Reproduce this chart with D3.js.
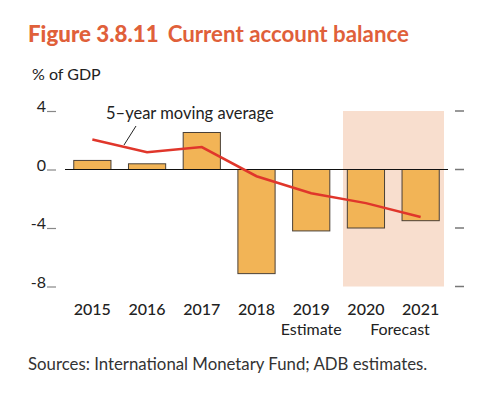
<!DOCTYPE html>
<html>
<head>
<meta charset="utf-8">
<script src="https://cdn.jsdelivr.net/npm/d3@7"></script>
<style>
  body { margin: 0; background: #fff; }
  text { font-family: Lato, "Open Sans", sans-serif; }
</style>
</head>
<body>
<div id="chart"></div>
<script>
'use strict';

// data
let years = ['2015', '2016', '2017', '2018', '2019', '2020', '2021'];
let balance = [0.62, 0.39, 2.53, -7.12, -4.2, -4.0, -3.5];
let moving_avg = [2.05, 1.18, 1.53, -0.46, -1.62, -2.3, -3.25];
let y_ticks = [4, 0, -4, -8];

let width = 490, height = 394;

let svg = d3.select('#chart').append('svg')
    .attr('width', width)
    .attr('height', height);

let x = d3.scaleBand()
    .domain(years)
    .range([65, 448])
    .paddingInner(0.32)
    .paddingOuter(0.16);

let y = d3.scaleLinear()
    .domain([-8, 4])
    .range([286.5, 111]);

// title
let title = svg.append('text')
    .attr('x', 28)
    .attr('y', 42)
    .attr('fill', '#e0603a')
    .style('font-size', '22.3px');
title.append('tspan').attr('font-weight', 900).text('Figure 3.8.11');
title.append('tspan').attr('dx', 9).attr('font-weight', 700).text('Current account balance');

svg.append('text')
    .attr('x', 32)
    .attr('y', 80)
    .style('font-size', '16px')
    .attr('fill', '#222')
    .text('% of GDP');

// forecast shading
svg.append('rect')
    .attr('x', 343)
    .attr('width', 444 - 343)
    .attr('y', y(4))
    .attr('height', y(-8) - y(4))
    .attr('fill', '#f8dece');

// left axis: labels with short gray tick mark
let left = svg.append('g');
left.selectAll('text').data(y_ticks).enter().append('text')
    .attr('x', 46)
    .attr('y', function(d) { return y(d) + 1; })
    .attr('text-anchor', 'end')
    .style('font-size', '16px')
    .attr('fill', '#222')
    .text(function(d) { return d; });
left.selectAll('line').data(y_ticks).enter().append('line')
    .attr('x1', 47).attr('x2', 56)
    .attr('y1', function(d) { return y(d) + 0.5; })
    .attr('y2', function(d) { return y(d) + 0.5; })
    .attr('stroke', '#888')
    .attr('stroke-width', 1.2);

// right axis ticks
svg.append('g').selectAll('line').data(y_ticks).enter().append('line')
    .attr('x1', 455).attr('x2', 464)
    .attr('y1', function(d) { return y(d); })
    .attr('y2', function(d) { return y(d); })
    .attr('stroke', '#777')
    .attr('stroke-width', 1.5);

// bars
svg.append('g').selectAll('rect').data(years).enter().append('rect')
    .attr('x', function(d) { return x(d); })
    .attr('width', x.bandwidth())
    .attr('y', function(d, i) { return y(Math.max(0, balance[i])); })
    .attr('height', function(d, i) { return Math.abs(y(balance[i]) - y(0)); })
    .attr('fill', '#f2b456')
    .attr('stroke', '#4a4036')
    .attr('stroke-width', 1);

// zero line
svg.append('line')
    .attr('x1', 65).attr('x2', 448)
    .attr('y1', y(0)).attr('y2', y(0))
    .attr('stroke', '#111')
    .attr('stroke-width', 1);

// moving average line
let line = d3.line()
    .x(function(d, i) { return x(years[i]) + x.bandwidth() / 2; })
    .y(function(d) { return y(d); });

svg.append('path')
    .datum(moving_avg)
    .attr('d', line)
    .attr('fill', 'none')
    .attr('stroke', '#e0362b')
    .attr('stroke-width', 2.5);

// annotation
svg.append('line')
    .attr('x1', 124).attr('y1', 145)
    .attr('x2', 136).attr('y2', 126)
    .attr('stroke', '#222')
    .attr('stroke-width', 1);
svg.append('text')
    .attr('x', 106)
    .attr('y', 119)
    .style('font-size', '16.5px')
    .attr('fill', '#222')
    .text('5\u2013year moving average');

// x labels
svg.append('g').selectAll('text').data(years).enter().append('text')
    .attr('x', function(d) { return x(d) + x.bandwidth() / 2; })
    .attr('y', 315)
    .attr('text-anchor', 'middle')
    .style('font-size', '16px')
    .attr('font-weight', 500)
    .attr('fill', '#222')
    .text(function(d) { return d; });

svg.append('text')
    .attr('x', x('2019') + x.bandwidth() / 2)
    .attr('y', 335)
    .attr('text-anchor', 'middle')
    .style('font-size', '16px')
    .attr('fill', '#222')
    .text('Estimate');

svg.append('text')
    .attr('x', 400)
    .attr('y', 335)
    .attr('text-anchor', 'middle')
    .style('font-size', '16px')
    .attr('fill', '#222')
    .text('Forecast');

svg.append('text')
    .attr('x', 28)
    .attr('y', 370)
    .style('font-size', '16.8px')
    .attr('fill', '#333')
    .text('Sources: International Monetary Fund; ADB estimates.');
</script>
</body>
</html>
